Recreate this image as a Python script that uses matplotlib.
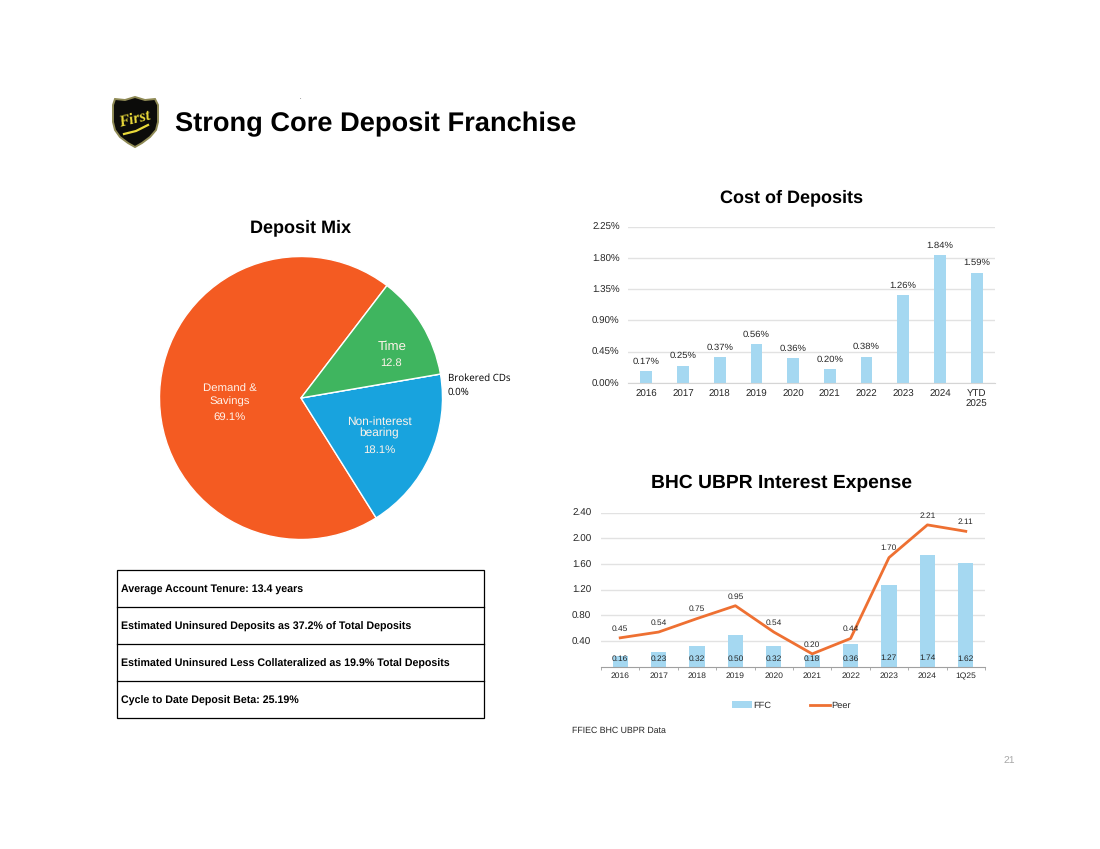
import numpy as np
import matplotlib
matplotlib.use("Agg")
import matplotlib.pyplot as plt
from matplotlib.patches import Polygon, Rectangle

plt.rcParams["font.family"] = ["Liberation Sans", "DejaVu Sans"]
plt.rcParams["text.hinting"] = "none"
plt.rcParams["text.hinting_factor"] = 8

W, H = 1100, 849

# deposit mix (slice sizes as drawn, printed labels differ a little)
mix_shares = [69.3, 18.8, 0.0, 11.9]
mix_colors = ["#F45B22", "#18A3DE", "#999999", "#3FB55F"]

# cost of deposits
cost_years = ["2016", "2017", "2018", "2019", "2020", "2021", "2022", "2023", "2024", "YTD\n2025"]
cost_vals = [0.17, 0.25, 0.37, 0.56, 0.36, 0.20, 0.38, 1.26, 1.84, 1.59]
cost_ticks = [0.00, 0.45, 0.90, 1.35, 1.80, 2.25]

# BHC UBPR interest expense
bhc_years = ["2016", "2017", "2018", "2019", "2020", "2021", "2022", "2023", "2024", "1Q25"]
ffc_vals = [0.16, 0.23, 0.32, 0.50, 0.32, 0.18, 0.36, 1.27, 1.74, 1.62]
peer_vals = [0.45, 0.54, 0.75, 0.95, 0.54, 0.20, 0.44, 1.70, 2.21, 2.11]
bhc_ticks = [0.40, 0.80, 1.20, 1.60, 2.00, 2.40]

# table rows
table_rows = [
    "Average Account Tenure: 13.4 years",
    "Estimated Uninsured Deposits as 37.2% of Total Deposits",
    "Estimated Uninsured Less Collateralized as 19.9% Total Deposits",
    "Cycle to Date Deposit Beta: 25.19%",
]

BAR = "#A5D8F1"
LINE = "#EE7032"
GRID = "#E2E2E2"
TXT = "#262626"


def px_axes(fig, left, top, right, bottom):
    # axes placed by pixel box, y counted from the top of the page
    return fig.add_axes([left / W, 1 - bottom / H, (right - left) / W, (bottom - top) / H])


fig = plt.figure(figsize=(W / 100, H / 100), dpi=100, facecolor="white")

# page layer in pixel coordinates, kept above the charts
page = fig.add_axes([0, 0, 1, 1])
page.set_xlim(0, W)
page.set_ylim(H, 0)
page.axis("off")
page.set_zorder(10)

# shield logo
shield_x = [135, 145, 155, 158, 158, 156, 150, 142, 135, 128, 120, 115, 113, 113, 115, 125]
shield_y = [97, 100, 99, 105, 122, 130, 137, 143, 147, 143, 137, 130, 122, 105, 99, 100]
page.add_patch(Polygon(np.column_stack([shield_x, shield_y]), closed=True, fc="#0C0C0A", ec="#8F8A55", lw=1.4))
page.text(135, 119, "First", family=["Liberation Serif"], style="italic", weight="bold",
          color="#E9D93A", fontsize=11.5, ha="center", va="center", rotation=14)
page.plot([124, 136, 148], [134, 131, 125], color="#E9D93A", lw=1.6)

page.text(175, 124, "Strong Core Deposit Franchise", fontsize=19.6, weight="bold", color="black",
          ha="left", va="center")
page.text(300, 99, ".", fontsize=4, color="black", ha="center", va="baseline")

page.text(300.5, 228, "Deposit Mix", fontsize=13, weight="bold", color="black", ha="center", va="center")
page.text(792, 197.5, "Cost of Deposits", fontsize=13, weight="bold", color="black", ha="center", va="center")
page.text(782, 483.5, "BHC UBPR Interest Expense", fontsize=13.9, weight="bold", color="black", ha="center", va="center")

# pie
cx, cy, r = 301, 398, 141.5
pie_ax = px_axes(fig, cx - r, cy - r, cx + r, cy + r)
pie_ax.pie(mix_shares, colors=mix_colors, startangle=52.6, counterclock=True, radius=1,
           wedgeprops={"edgecolor": "white", "linewidth": 1.0})
pie_ax.set_xlim(-1, 1)
pie_ax.set_ylim(-1, 1)

for x, y, s, fs in [(230, 389, "Demand &", 8.2), (230, 402, "Savings", 8.2), (230, 417, "69.1%", 8.2),
                    (379, 422, "Non-interest", 8.6), (379, 433, "bearing", 8.6), (379, 450, "18.1%", 8.2),
                    (392, 347, "Time", 9.5), (391, 363, "12.8", 8)]:
    page.text(x, y, s, color="#FFF3EA", fontsize=fs, ha="center", va="center", zorder=5)
page.text(448, 378.5, "Brokered CDs", family=["Open Sans"], fontsize=7, color="black", ha="left", va="center")
page.text(448, 392.5, "0.0%", family=["Open Sans"], fontsize=7, color="black", ha="left", va="center")

# table
row_lines = [570, 607, 644, 681, 718]
page.add_patch(Rectangle((117, 570), 367, 148, fc="none", ec="black", lw=0.9))
for y in row_lines[1:-1]:
    page.plot([117, 484], [y, y], color="black", lw=0.9)
for i, row in enumerate(table_rows):
    page.text(121, (row_lines[i] + row_lines[i + 1]) / 2 + 1, row, fontsize=7.7, weight="bold",
              color="black", ha="left", va="center")

# cost of deposits chart
ax1 = px_axes(fig, 628, 226.7, 995, 383)
xs = np.arange(len(cost_vals))
ax1.bar(xs, cost_vals, width=0.32, color=BAR, zorder=2)
ax1.set_xlim(-0.5, 9.5)
ax1.set_ylim(0, 2.25)
ax1.set_yticks(cost_ticks, [f"{v:.2f}%" for v in cost_ticks])
ax1.set_xticks(xs, cost_years)
ax1.grid(axis="y", color=GRID, lw=1, zorder=0)
ax1.set_axisbelow(True)
ax1.tick_params(axis="both", length=0, labelsize=7, labelcolor=TXT)
ax1.tick_params(axis="x", pad=4.5)
ax1.tick_params(axis="y", pad=6)
for label in ax1.get_yticklabels():
    label.set_va("center_baseline")
for name in ["top", "left", "right"]:
    ax1.spines[name].set_visible(False)
ax1.spines["bottom"].set_color("#D5D5D5")
for x, v in zip(xs, cost_vals):
    ax1.annotate(f"{v:.2f}%", (x, v), xytext=(0, 4), textcoords="offset points", ha="center", va="bottom",
                 fontsize=6.8, color=TXT)

# BHC chart
ax2 = px_axes(fig, 601, 512.7, 985, 666.7)
xs = np.arange(len(ffc_vals))
ax2.bar(xs, ffc_vals, width=0.4, color=BAR, zorder=2, label="FFC")
ax2.plot(xs, peer_vals, color=LINE, lw=2, zorder=3, label="Peer")
ax2.set_xlim(-0.5, 9.5)
ax2.set_ylim(0, 2.40)
ax2.set_yticks(bhc_ticks, [f"{v:.2f}" for v in bhc_ticks])
ax2.set_xticks(xs, bhc_years)
ax2.set_xticks(np.arange(-0.5, 10), minor=True)
ax2.grid(axis="y", color=GRID, lw=1, zorder=0)
ax2.set_axisbelow(True)
ax2.tick_params(axis="y", length=0, labelsize=7.1, labelcolor=TXT, pad=7)
ax2.tick_params(axis="x", which="major", length=0, labelsize=6.1, labelcolor=TXT, pad=4)
ax2.tick_params(axis="x", which="minor", length=2.5, color="#A0A0A0", width=0.6)
for label in ax2.get_yticklabels():
    label.set_va("center_baseline")
for name in ["top", "left", "right"]:
    ax2.spines[name].set_visible(False)
ax2.spines["bottom"].set_color("#A0A0A0")
for x, v in zip(xs, ffc_vals):
    ax2.text(x, 0.13, f"{v:.2f}", ha="center", va="center", fontsize=6, color=TXT, zorder=5)
for x, v in zip(xs, peer_vals):
    ax2.annotate(f"{v:.2f}", (x, v), xytext=(0, 4), textcoords="offset points", ha="center", va="bottom",
                 fontsize=6, color=TXT, zorder=5)

handles, labels = ax2.get_legend_handles_labels()
order = [labels.index("FFC"), labels.index("Peer")]
fig.legend([handles[i] for i in order], [labels[i] for i in order], loc="center",
           bbox_to_anchor=(791.5 / W, 1 - 705.5 / H), ncol=2, frameon=False,
           fontsize=6.7, labelcolor=TXT, columnspacing=4.2, handlelength=2.1, handletextpad=0.15)

page.text(572, 731, "FFIEC BHC UBPR Data", fontsize=6.3, color=TXT, ha="left", va="center")
page.text(1009, 760, "21", fontsize=7.5, color="#A8A8A8", ha="center", va="center")

fig.savefig("out.png", dpi=100, facecolor="white")
